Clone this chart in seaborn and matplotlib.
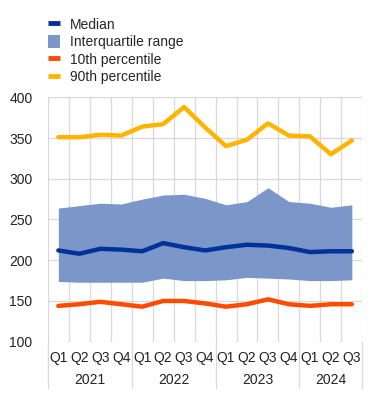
import numpy as np
import pandas as pd
import matplotlib
matplotlib.use("Agg")
import matplotlib.pyplot as plt
import matplotlib.transforms as mtransforms
from matplotlib.patches import Patch
from matplotlib.lines import Line2D
import seaborn as sns

# Data
quarters = ["Q1", "Q2", "Q3", "Q4", "Q1", "Q2", "Q3", "Q4",
            "Q1", "Q2", "Q3", "Q4", "Q1", "Q2", "Q3"]
years = ["2021", "2022", "2023", "2024"]
median = [212, 208, 214, 213, 211, 221, 216, 212, 216, 219, 218, 215, 210, 211, 211]
p25 = [174, 173, 173, 173, 173, 178, 175, 175, 176, 179, 178, 177, 175, 175, 176]
p75 = [264, 267, 270, 269, 275, 280, 281, 276, 268, 272, 289, 272, 270, 265, 268]
p10 = [144, 146, 149, 146, 143, 150, 150, 147, 143, 146, 152, 146, 144, 146, 146]
p90 = [351, 351, 354, 353, 364, 367, 388, 363, 340, 348, 368, 353, 352, 330, 347]

df = pd.DataFrame({"t": np.arange(len(quarters)), "median": median,
                   "p10": p10, "p90": p90, "p25": p25, "p75": p75})

c_med = "#003299"
c_iqr = "#7b96c9"
c_p10 = "#ff4b00"
c_p90 = "#ffb400"

sns.set_style("white")
plt.rcParams["font.family"] = ["Liberation Sans", "DejaVu Sans"]

fig = plt.figure(figsize=(3.71, 4.07), dpi=100)
ax = fig.add_axes([0.129, 0.1604, 0.8476, 0.6006])

ax.fill_between(df["t"], df["p25"], df["p75"], color=c_iqr, lw=0, zorder=2)
sns.lineplot(data=df, x="t", y="p90", color=c_p90, lw=3.2, ax=ax, zorder=3)
sns.lineplot(data=df, x="t", y="p10", color=c_p10, lw=3.2, ax=ax, zorder=3)
sns.lineplot(data=df, x="t", y="median", color=c_med, lw=3.2, ax=ax, zorder=4)

ax.set_xlim(-0.5, len(quarters) - 0.5)
ax.set_ylim(100, 400)
ax.set_yticks(range(100, 401, 50))
ax.set_xticks(df["t"])
ax.set_xticklabels(quarters)
ax.set_xlabel("")
ax.set_ylabel("")
ax.tick_params(axis="both", length=0, labelsize=10, colors="#222222")
ax.tick_params(axis="x", pad=7)
ax.tick_params(axis="y", pad=11)

# grid: horizontal at ticks, vertical at category boundaries
for y in range(100, 401, 50):
    ax.axhline(y, color="#d9d9d9", lw=0.9, zorder=1)
for b in np.arange(-0.5, len(quarters), 1.0):
    ax.axvline(b, color="#d9d9d9", lw=0.9, zorder=1)
for s in ax.spines.values():
    s.set_visible(False)

# year separators and labels below the axis
trans = mtransforms.blended_transform_factory(ax.transData, ax.transAxes)
bounds = [-0.5, 3.5, 7.5, 11.5, 14.5]
for b in bounds:
    ax.plot([b, b], [0, -0.19], transform=trans, color="#d9d9d9", lw=0.9,
            clip_on=False)
for i, yr in enumerate(years):
    ax.text((bounds[i] + bounds[i + 1]) / 2, -0.155, yr, transform=trans,
            ha="center", va="center", fontsize=10, color="#222222")

handles = [Line2D([], [], color=c_med, lw=3.5, solid_capstyle="butt"),
           Patch(facecolor=c_iqr, edgecolor="none"),
           Line2D([], [], color=c_p10, lw=3.5, solid_capstyle="butt"),
           Line2D([], [], color=c_p90, lw=3.5, solid_capstyle="butt")]
labels = ["Median", "Interquartile range", "10th percentile", "90th percentile"]
fig.legend(handles, labels, loc="upper left", bbox_to_anchor=(0.114, 0.97),
           frameon=False, fontsize=10, handlelength=0.9, handleheight=1.0,
           handletextpad=0.7, labelspacing=0.25, borderaxespad=0)

fig.savefig("out.png", dpi=100)
